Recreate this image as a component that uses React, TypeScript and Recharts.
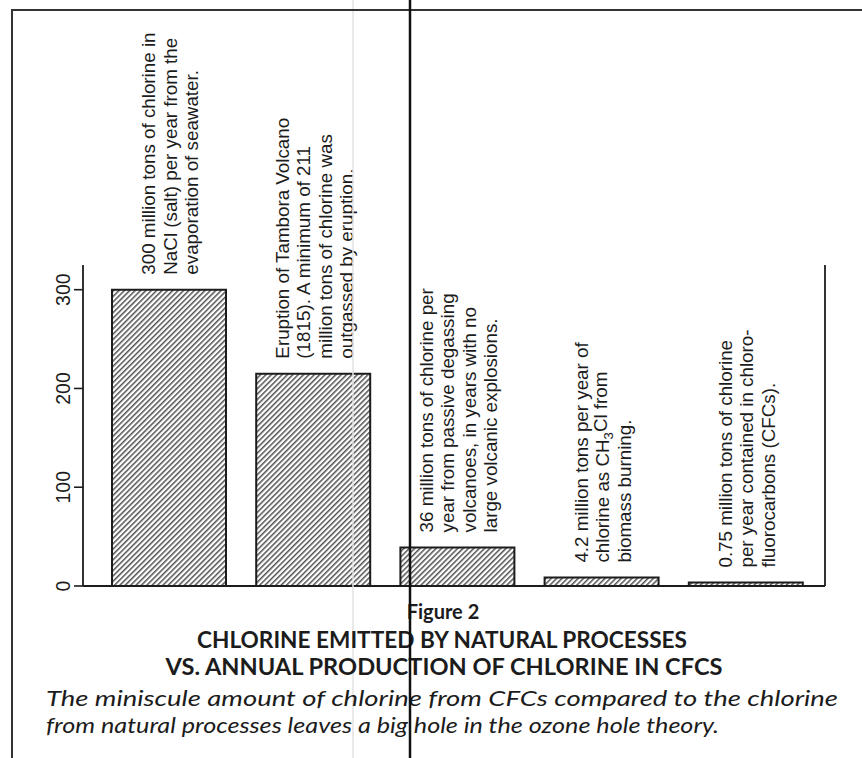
import React from 'react';
import { BarChart, Bar, XAxis, YAxis, LabelList } from 'recharts';

const categories = ['NaCl from seawater', 'Tambora eruption', 'Passive volcanoes', 'Biomass burning', 'CFCs'];
const chlorineValues = [300, 215, 39, 8.5, 3.5];
const yTicks = [0, 100, 200, 300];
const barNotes: string[][] = [
  ['300 million tons of chlorine in', 'NaCl (salt) per year from the', 'evaporation of seawater.'],
  ['Eruption of Tambora Volcano', '(1815). A minimum of 211', 'million tons of chlorine was', 'outgassed by eruption.'],
  ['36 million tons of chlorine per', 'year from passive degassing', 'volcanoes, in years with no', 'large volcanic explosions.'],
  ['4.2 million tons per year of', 'chlorine as CH{3}Cl from', 'biomass burning.'],
  ['0.75 million tons of chlorine', 'per year contained in chloro-', 'fluorocarbons (CFCs).'],
];
const figureLabel = 'Figure 2';
const titleLines = ['CHLORINE EMITTED BY NATURAL PROCESSES', 'VS. ANNUAL PRODUCTION OF CHLORINE IN CFCS'];
const captionLines = [
  'The miniscule amount of chlorine from CFCs compared to the chlorine',
  'from natural processes leaves a big hole in the ozone hole theory.',
];

const data = categories.map((name, i) => ({ name, value: chlorineValues[i], id: i }));

const INK = '#1c1c1c';
const LABEL_FONT = '"Liberation Sans", Arial, Helvetica, sans-serif';
const CAP_FONT = 'Lato, "Open Sans", sans-serif';

function renderLine(line: string) {
  const m = line.match(/^(.*)\{(.+)\}(.*)$/);
  if (!m) return line;
  return [
    <tspan key="a">{m[1]}</tspan>,
    <tspan key="b" fontSize="0.7em" dy="0.3em">{m[2]}</tspan>,
    <tspan key="c" dy="-0.3em">{m[3]}</tspan>,
  ];
}

const NoteLabel = (props: any) => {
  const { x, y, width, value } = props;
  const lines = barNotes[Number(value)] || [];
  const spacing = 21.5;
  const cx = Number(x) + Number(width) / 2 + 1;
  const startY = Number(y) - 15;
  return (
    <g>
      {lines.map((ln, i) => {
        const lx = cx + (i - (lines.length - 1) / 2) * spacing;
        return (
          <text
            key={i}
            transform={`translate(${lx},${startY}) rotate(-90)`}
            textAnchor="start"
            dy="0.35em"
            fontFamily={LABEL_FONT}
            fontSize={18.8}
            fill={INK}
          >
            {renderLine(ln)}
          </text>
        );
      })}
    </g>
  );
};

const YTick = (props: any) => {
  const { x, y, payload } = props;
  const cx = Number(x) - 9;
  return (
    <text
      transform={`translate(${cx},${y}) rotate(-90)`}
      textAnchor="middle"
      dy="0.35em"
      fontFamily={LABEL_FONT}
      fontSize={19.5}
      fill={INK}
    >
      {payload.value}
    </text>
  );
};

export default function App() {
  return (
    <div style={{ position: 'absolute', left: 0, top: 0, width: 862, height: 758, background: '#fff', overflow: 'hidden' }}>
      <svg width={0} height={0} style={{ position: 'absolute' }}>
        <defs>
          <pattern id="hatch" patternUnits="userSpaceOnUse" width="3.8" height="3.8" patternTransform="rotate(45)">
            <rect x="0" y="0" width="3.8" height="3.8" fill="#fff" />
            <line x1="0.8" y1="0" x2="0.8" y2="3.8" stroke={INK} strokeWidth="1.15" />
          </pattern>
        </defs>
      </svg>
      <BarChart
        width={862}
        height={758}
        data={data}
        margin={{ top: 265, right: 36, bottom: 171, left: 0 }}
        barSize={114}
      >
        <XAxis
          dataKey="name"
          xAxisId={0}
          height={1}
          tick={false}
          tickLine={false}
          axisLine={{ stroke: INK, strokeWidth: 1.8 }}
          padding={{ left: 14, right: 7 }}
        />
        <YAxis
          yAxisId="left"
          width={83}
          domain={[0, 325]}
          ticks={yTicks}
          tickSize={9}
          tick={<YTick />}
          tickLine={{ stroke: INK, strokeWidth: 1.6 }}
          axisLine={{ stroke: INK, strokeWidth: 1.8 }}
          allowDataOverflow
        />
        <YAxis
          yAxisId="right"
          orientation="right"
          width={1}
          domain={[0, 325]}
          tick={false}
          tickLine={false}
          axisLine={{ stroke: INK, strokeWidth: 1.8 }}
        />
        <Bar
          yAxisId="left"
          dataKey="value"
          fill="url(#hatch)"
          stroke={INK}
          strokeWidth={2}
          isAnimationActive={false}
        >
          <LabelList dataKey="id" content={<NoteLabel />} />
        </Bar>
      </BarChart>
      <svg
        width={862}
        height={758}
        style={{ position: 'absolute', left: 0, top: 0, pointerEvents: 'none' }}
      >
        <line x1={353} y1={0} x2={353} y2={758} stroke="#e2e2e2" strokeWidth={1.5} />
        <line x1={12} y1={10} x2={862} y2={10} stroke="#333" strokeWidth={2} />
        <line x1={12} y1={9} x2={12} y2={758} stroke="#333" strokeWidth={2} />
        <text x={443} y={619} textAnchor="middle" fontFamily={CAP_FONT} fontWeight={700} fontSize={20} fill={INK}>
          {figureLabel}
        </text>
        <text x={442} y={648} textAnchor="middle" fontFamily={CAP_FONT} fontWeight={700} fontSize={22} fill={INK}
          textLength={490} lengthAdjust="spacingAndGlyphs">
          {titleLines[0]}
        </text>
        <text x={444} y={675} textAnchor="middle" fontFamily={CAP_FONT} fontWeight={700} fontSize={22} fill={INK}
          textLength={557} lengthAdjust="spacingAndGlyphs">
          {titleLines[1]}
        </text>
        <text x={46} y={706} fontFamily={CAP_FONT} fontStyle="italic" fontSize={22} fill={INK}
          textLength={792} lengthAdjust="spacingAndGlyphs">
          {captionLines[0]}
        </text>
        <text x={46} y={733} fontFamily={CAP_FONT} fontStyle="italic" fontSize={22} fill={INK}
          textLength={673} lengthAdjust="spacingAndGlyphs">
          {captionLines[1]}
        </text>
        <line x1={410} y1={0} x2={410} y2={758} stroke="#111" strokeWidth={2.5} />
      </svg>
    </div>
  );
}
